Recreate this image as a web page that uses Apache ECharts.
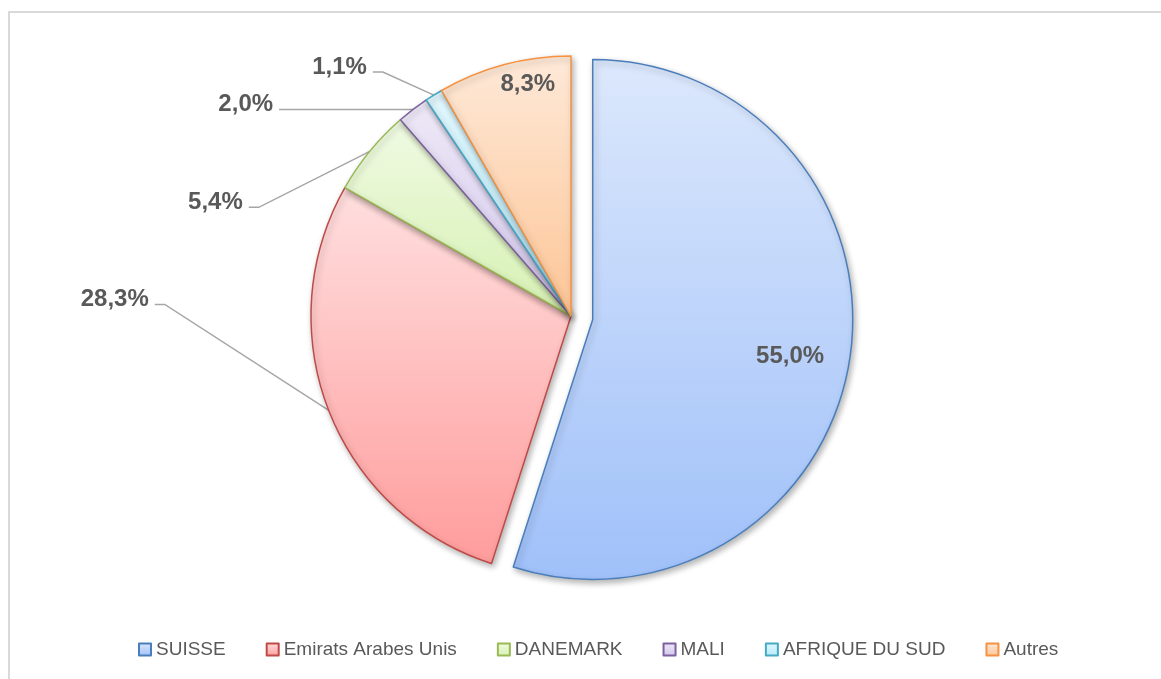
<!DOCTYPE html>
<html>
<head>
<meta charset="utf-8">
<script src="https://cdn.jsdelivr.net/npm/echarts@6/dist/echarts.min.js"></script>
<style>
  html, body { margin: 0; padding: 0; background: #fff; overflow: hidden; }
  .frame {
    position: absolute; left: 8px; top: 11px; width: 1200px; height: 720px;
    border-left: 2px solid #d9d9d9; border-top: 2px solid #d9d9d9;
  }
  .chart { position: absolute; left: 0; top: 0; width: 1161px; height: 679px; }
</style>
</head>
<body>
<div class="frame"></div>
<div class="chart" id="chart"></div>
<script>
  const countries = ['SUISSE', 'Emirats Arabes Unis', 'DANEMARK', 'MALI', 'AFRIQUE DU SUD', 'Autres'];
  const shares = [55.0, 28.3, 5.4, 2.0, 1.1, 8.3];

  // fill gradient top -> bottom, border colour
  const fills = [
    ['#dce8fc', '#9fc0f9', '#4a7ebb'],
    ['#ffdfdf', '#ff9c9c', '#be4b48'],
    ['#f0fae3', '#d6f1b2', '#98b954'],
    ['#eee9f7', '#d2c6ec', '#7d60a0'],
    ['#e2f7fd', '#b6ebfa', '#46aac5'],
    ['#fee9d8', '#fdc596', '#f69240']
  ];
  // where labels go: outside ones relative to the slice edge, inside ones relative to default spot
  const outsideOffset = { 1: [-180, -111], 2: [-127, 51], 3: [-140, -5], 4: [-67, -28] };
  const insideShift = { 5: [-9, -103] };
  // the exploded slice keeps its label in "select" state, so nudge it with padding / an empty first line
  const explodedIndex = 0;

  const pct = v => v.toFixed(1).replace('.', ',') + '%';

  const chart = echarts.init(document.getElementById('chart'));

  const data = countries.map((name, i) => ({
    name: name,
    value: shares[i],
    selected: i === explodedIndex,
    itemStyle: {
      color: new echarts.graphic.LinearGradient(0, 0, 0, 1, [
        { offset: 0, color: fills[i][0] },
        { offset: 1, color: fills[i][1] }
      ]),
      borderColor: fills[i][2]
    },
    label: i === explodedIndex
      ? { position: 'inside', padding: [0, 0, 0, 132], lineHeight: 32, formatter: p => '\n' + pct(p.value) }
      : { position: outsideOffset[i] ? 'outside' : 'inside' },
    labelLine: { show: !!outsideOffset[i] }
  }));

  chart.setOption({
    animation: false,
    legend: {
      data: countries,
      top: 635,
      left: 133,
      itemWidth: 12,
      itemHeight: 12,
      itemGap: 40,
      icon: 'rect',
      textStyle: { color: '#595959', fontSize: 19, fontFamily: 'Liberation Sans' }
    },
    series: [{
      type: 'pie',
      center: [571, 316],
      radius: 260,
      startAngle: 90,
      selectedMode: 'single',
      selectedOffset: 22,
      avoidLabelOverlap: false,
      itemStyle: {
        borderWidth: 1.5,
        shadowBlur: 6,
        shadowOffsetX: 2,
        shadowOffsetY: 3,
        shadowColor: 'rgba(0,0,0,0.3)'
      },
      label: {
        formatter: p => pct(p.value),
        color: '#595959',
        fontSize: 24,
        fontWeight: 'bold',
        fontFamily: 'Liberation Sans'
      },
      labelLine: {
        lineStyle: { color: '#a6a6a6', width: 1.5 },
        length: 20,
        length2: 10
      },
      labelLayout: function (p) {
        const i = p.dataIndex;
        if (outsideOffset[i] && p.labelLinePoints) {
          const e = p.labelLinePoints[0];
          const x = e[0] + outsideOffset[i][0];
          const y = e[1] + outsideOffset[i][1];
          return {
            x: x, y: y, align: 'right', verticalAlign: 'middle',
            labelLinePoints: [[e[0], e[1]], [x + 16, y + 5], [x + 6, y + 5]]
          };
        }
        const s = insideShift[i];
        if (!s) return {};
        const r = p.labelRect;
        return {
          x: r.x + r.width / 2 + s[0],
          y: r.y + r.height / 2 + s[1],
          align: 'center', verticalAlign: 'middle'
        };
      },
      emphasis: { disabled: true },
      data: data
    }]
  });
</script>
</body>
</html>
